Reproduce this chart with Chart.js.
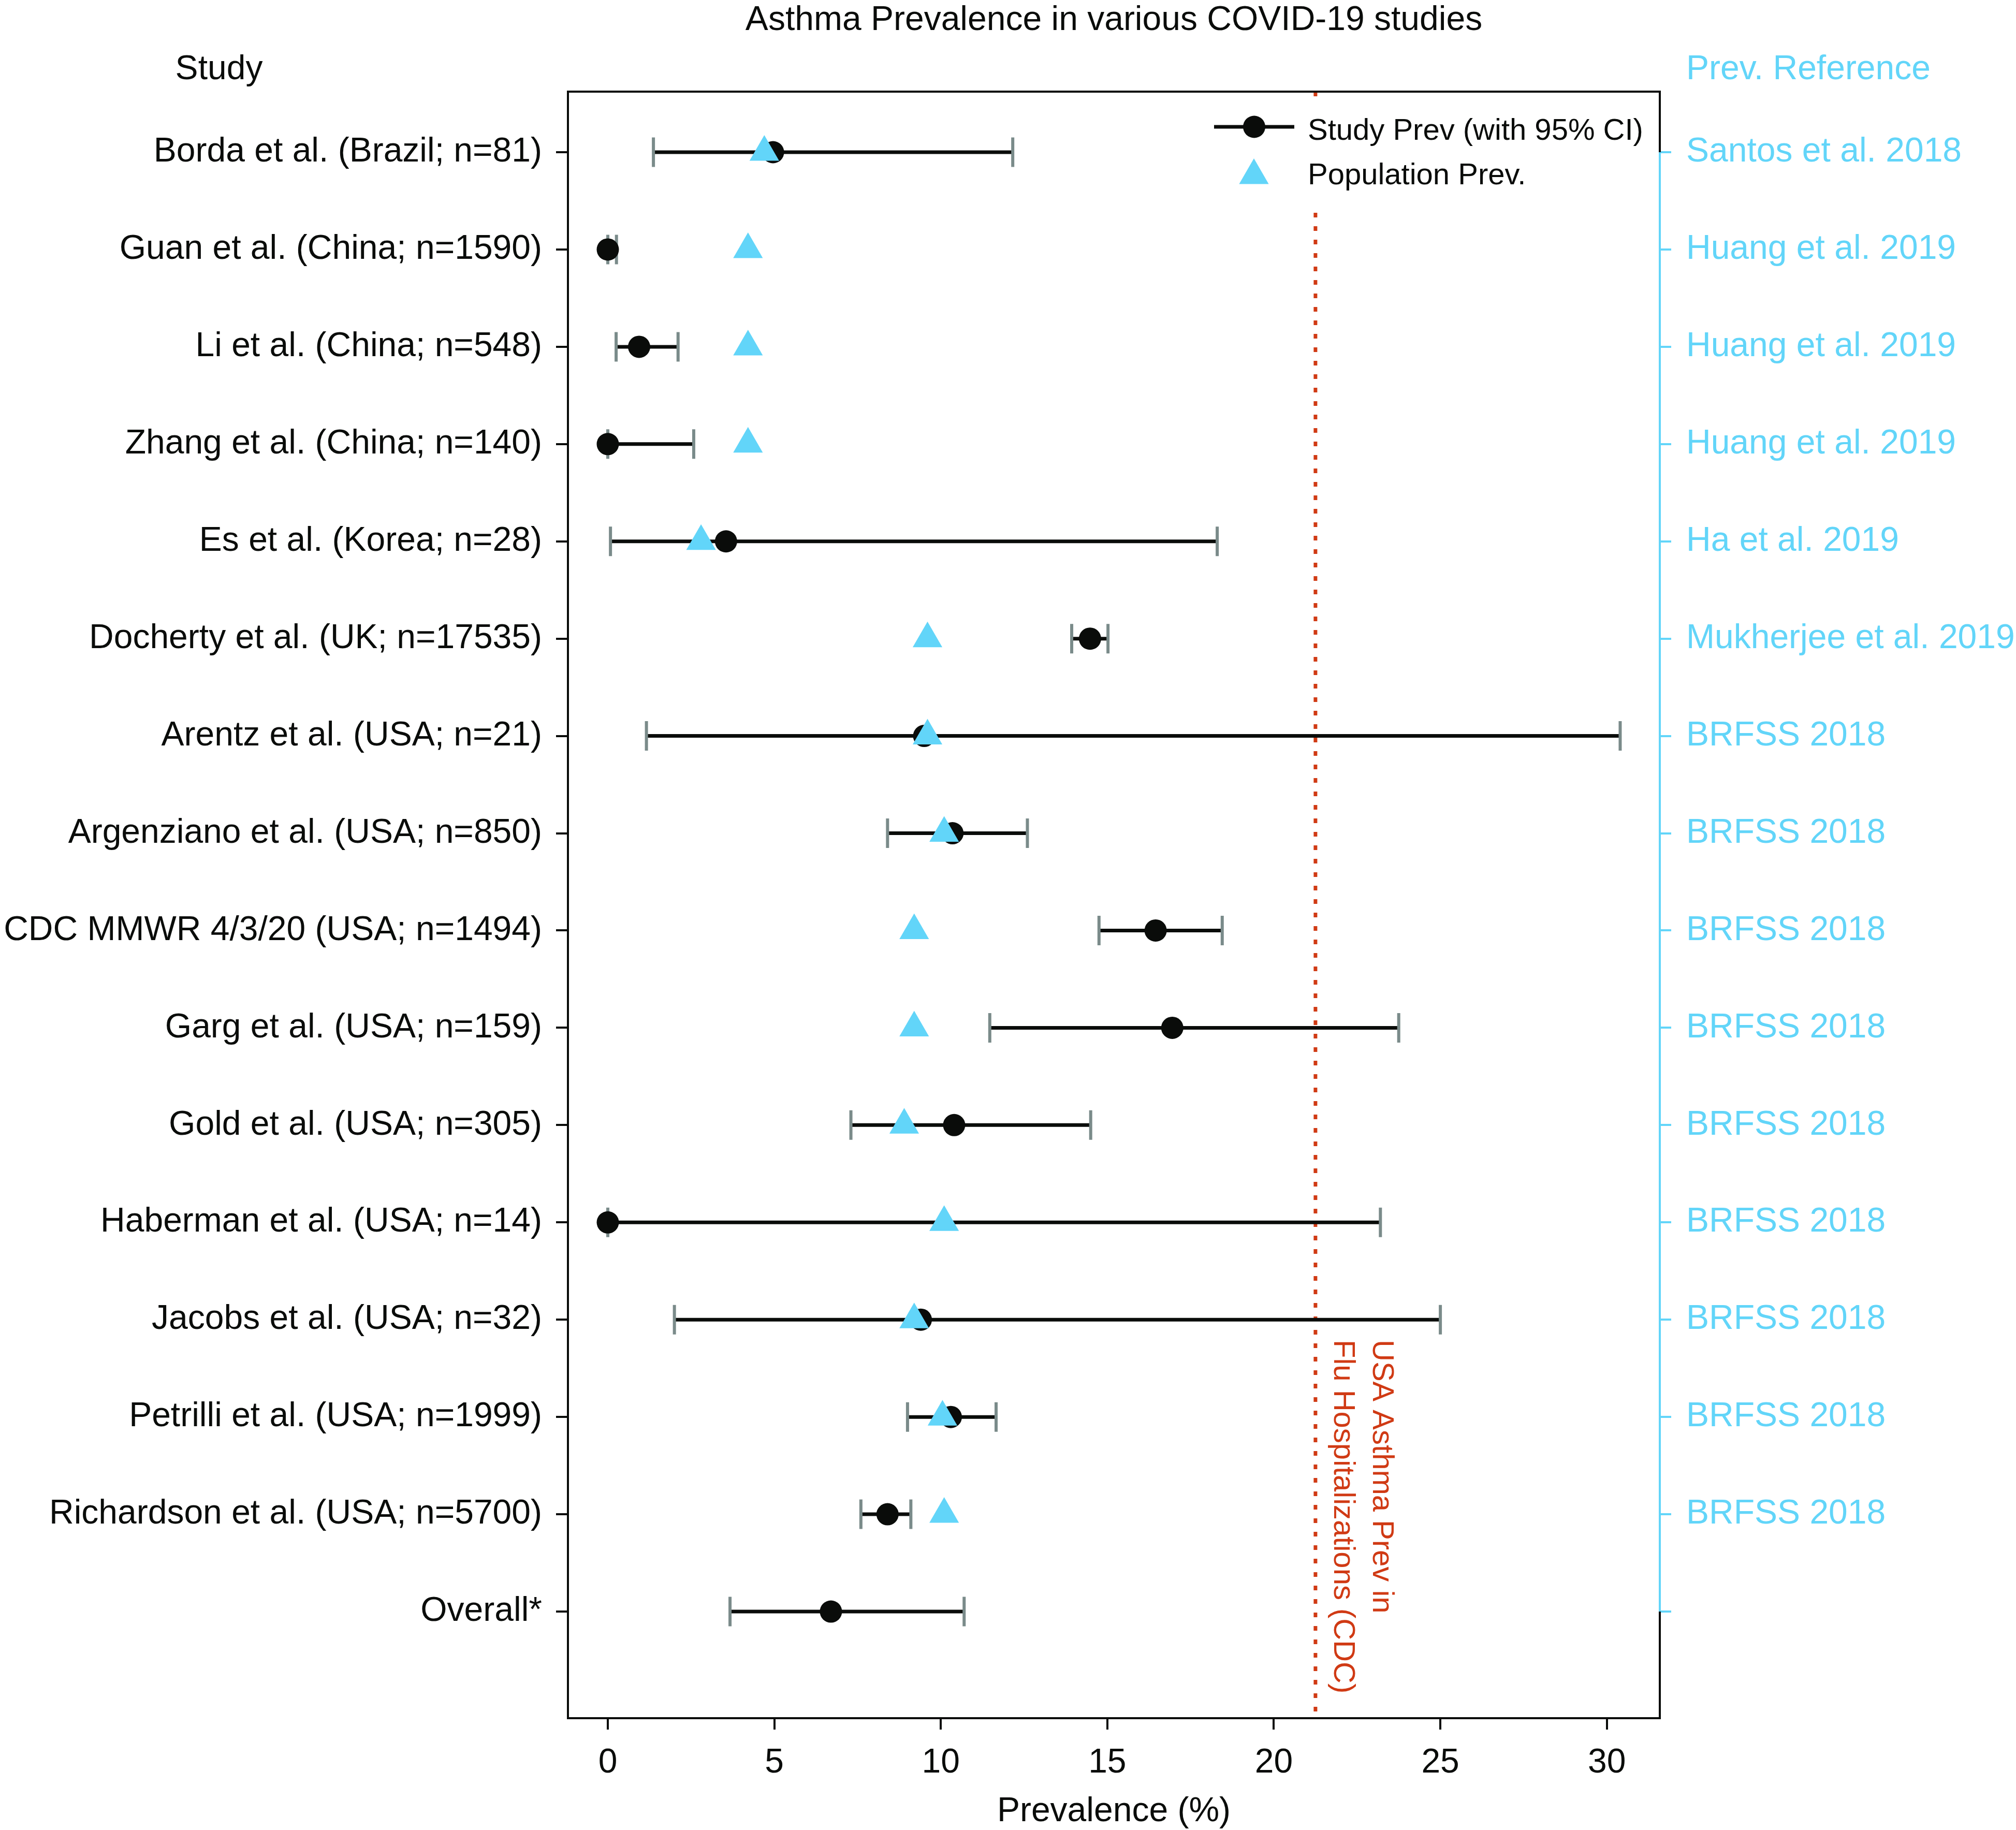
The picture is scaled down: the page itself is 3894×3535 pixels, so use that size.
<!DOCTYPE html>
<html><head><meta charset="utf-8">
<script src="https://cdn.jsdelivr.net/npm/chart.js@4.4.1/dist/chart.umd.min.js"></script>
<style>html,body{margin:0;padding:0;background:#fff;} #wrap{width:3894px;height:3535px;position:relative;}</style>
</head><body><div id="wrap"><canvas id="c"></canvas></div>
<script>
// ---------- data ----------
const studies = [
  'Borda et al. (Brazil; n=81)',
  'Guan et al. (China; n=1590)',
  'Li et al. (China; n=548)',
  'Zhang et al. (China; n=140)',
  'Es et al. (Korea; n=28)',
  'Docherty et al. (UK; n=17535)',
  'Arentz et al. (USA; n=21)',
  'Argenziano et al. (USA; n=850)',
  'CDC MMWR 4/3/20 (USA; n=1494)',
  'Garg et al. (USA; n=159)',
  'Gold et al. (USA; n=305)',
  'Haberman et al. (USA; n=14)',
  'Jacobs et al. (USA; n=32)',
  'Petrilli et al. (USA; n=1999)',
  'Richardson et al. (USA; n=5700)',
  'Overall*'
];
const refLabels = [
  'Santos et al. 2018',
  'Huang et al. 2019',
  'Huang et al. 2019',
  'Huang et al. 2019',
  'Ha et al. 2019',
  'Mukherjee et al. 2019',
  'BRFSS 2018','BRFSS 2018','BRFSS 2018','BRFSS 2018','BRFSS 2018',
  'BRFSS 2018','BRFSS 2018','BRFSS 2018','BRFSS 2018',
  ''
];
const studyPrev = [4.96, 0, 0.94, 0, 3.55, 14.48, 9.5, 10.35, 16.45, 16.95, 10.4, 0, 9.4, 10.3, 8.4, 6.7];
const ciLow     = [1.37, 0, 0.25, 0, 0.08, 13.93, 1.16, 8.4, 14.75, 11.47, 7.3, 0, 2.0, 9.0, 7.6, 3.67];
const ciHigh    = [12.16, 0.26, 2.11, 2.58, 18.3, 15.02, 30.4, 12.6, 18.45, 23.75, 14.5, 23.2, 25.0, 11.66, 9.1, 10.7];
const popPrev   = [4.7, 4.21, 4.21, 4.21, 2.8, 9.6, 9.6, 10.1, 9.2, 9.2, 8.9, 10.1, 9.2, 10.05, 10.1, null];
const xTicks = [0, 5, 10, 15, 20, 25, 30];
const cdcFluAsthma = 21.25;
const chartTitle = 'Asthma Prevalence in various COVID-19 studies';
const xTitle = 'Prevalence (%)';
const leftHeader = 'Study';
const rightHeader = 'Prev. Reference';
const annotationLines = ['USA Asthma Prev in', 'Flu Hospitalizations (CDC)'];
const legendLabels = ['Study Prev (with 95% CI)', 'Population Prev.'];

// ---------- style ----------
const FONT = "'Liberation Sans', Arial, Helvetica, sans-serif";
const BLACK = '#0a0c0a';
const BLUE = '#62d5f9';
const RED = '#d03a14';
const GRAY = '#7a8b8a';
Chart.defaults.font.family = FONT;
Chart.defaults.font.size = 66;
Chart.defaults.color = BLACK;

const rowIdx = studies.map((_, i) => i);

const overlay = {
  id: 'overlay',
  beforeDatasetsDraw(chart) {
    const {ctx, chartArea: a, scales: {x, y}} = chart;
    ctx.save();
    // CDC reference dotted line
    const rx = x.getPixelForValue(cdcFluAsthma);
    ctx.strokeStyle = RED; ctx.lineWidth = 7; ctx.setLineDash([9, 17]);
    ctx.beginPath(); ctx.moveTo(rx, a.top); ctx.lineTo(rx, a.bottom); ctx.stroke();
    ctx.setLineDash([]);
    // error bars
    rowIdx.forEach(i => {
      const py = y.getPixelForValue(i);
      const x1 = x.getPixelForValue(ciLow[i]);
      const x2 = x.getPixelForValue(ciHigh[i]);
      ctx.strokeStyle = BLACK; ctx.lineWidth = 7;
      ctx.beginPath(); ctx.moveTo(x1, py); ctx.lineTo(x2, py); ctx.stroke();
      ctx.strokeStyle = GRAY; ctx.lineWidth = 6;
      ctx.beginPath();
      ctx.moveTo(x1, py - 28.5); ctx.lineTo(x1, py + 28.5);
      ctx.moveTo(x2, py - 28.5); ctx.lineTo(x2, py + 28.5);
      ctx.stroke();
    });
    ctx.restore();
  },
  afterDraw(chart) {
    const {ctx, chartArea: a, scales: {x, y}} = chart;
    ctx.save();
    // frame
    ctx.lineWidth = 4; ctx.strokeStyle = BLACK; ctx.lineCap = 'square';
    ctx.beginPath();
    ctx.moveTo(a.left, a.top); ctx.lineTo(a.right, a.top);
    ctx.moveTo(a.left, a.top); ctx.lineTo(a.left, a.bottom); ctx.lineTo(a.right, a.bottom);
    ctx.stroke();
    const y0 = y.getPixelForValue(0), y15 = y.getPixelForValue(studies.length - 1);
    ctx.lineCap = 'butt';
    ctx.beginPath();
    ctx.moveTo(a.right, a.top - 2); ctx.lineTo(a.right, y0);
    ctx.moveTo(a.right, y15); ctx.lineTo(a.right, a.bottom + 2);
    ctx.stroke();
    ctx.strokeStyle = BLUE;
    ctx.beginPath(); ctx.moveTo(a.right, y0); ctx.lineTo(a.right, y15); ctx.stroke();

    // legend
    ctx.fillStyle = '#ffffff';
    ctx.fillRect(2310, 190, 890, 215);
    ctx.strokeStyle = BLACK; ctx.lineWidth = 7;
    ctx.beginPath(); ctx.moveTo(2345, 245); ctx.lineTo(2500, 245); ctx.stroke();
    ctx.fillStyle = BLACK;
    ctx.beginPath(); ctx.arc(2422.5, 245, 21.5, 0, Math.PI * 2); ctx.fill();
    const r = 33, tcx = 2422, tcy = 339;
    ctx.fillStyle = BLUE;
    ctx.beginPath();
    ctx.moveTo(tcx, tcy - r);
    ctx.lineTo(tcx + r * Math.sin(2 * Math.PI / 3), tcy - r * Math.cos(2 * Math.PI / 3));
    ctx.lineTo(tcx + r * Math.sin(4 * Math.PI / 3), tcy - r * Math.cos(4 * Math.PI / 3));
    ctx.closePath(); ctx.fill();
    ctx.fillStyle = BLACK;
    ctx.font = `58px ${FONT}`;
    ctx.textAlign = 'left'; ctx.textBaseline = 'middle';
    ctx.fillText(legendLabels[0], 2526, 254);
    ctx.fillText(legendLabels[1], 2526, 340);

    // headers
    ctx.font = `66px ${FONT}`;
    ctx.textAlign = 'center'; ctx.fillStyle = BLACK;
    ctx.fillText(leftHeader, 423, 135);
    ctx.textAlign = 'left'; ctx.fillStyle = BLUE;
    ctx.fillText(rightHeader, 3257, 135);

    // rotated annotation
    ctx.fillStyle = RED;
    ctx.font = `58px ${FONT}`;
    ctx.textBaseline = 'alphabetic';
    const bx = [2652, 2577];
    annotationLines.forEach((t, k) => {
      ctx.save();
      ctx.translate(bx[k], 2588);
      ctx.rotate(Math.PI / 2);
      ctx.fillText(t, 0, 0);
      ctx.restore();
    });
    ctx.restore();
  }
};

const yRange = {min: -0.6226, max: 16.096};
function rowTicks(scale) { scale.ticks = rowIdx.map(v => ({value: v})); }

new Chart(document.getElementById('c'), {
  type: 'scatter',
  data: {
    datasets: [
      {
        label: legendLabels[0],
        data: studyPrev.map((v, i) => ({x: v, y: i})),
        pointStyle: 'circle', pointRadius: 21.5, pointHoverRadius: 21.5,
        backgroundColor: BLACK, borderWidth: 0, order: 1
      },
      {
        label: legendLabels[1],
        data: popPrev.map((v, i) => (v === null ? null : {x: v, y: i})).filter(p => p),
        pointStyle: 'triangle', pointRadius: 33, pointHoverRadius: 33,
        backgroundColor: BLUE, borderWidth: 0, order: 0
      }
    ]
  },
  options: {
    responsive: true, maintainAspectRatio: false, animation: false,
    devicePixelRatio: 1,
    layout: {padding: 0},
    plugins: {
      legend: {display: false},
      tooltip: {enabled: false},
      title: {
        display: true, text: chartTitle, color: BLACK, fullSize: false,
        font: {size: 66, weight: 'normal', family: FONT},
        padding: {top: 0, bottom: 97.8}
      }
    },
    scales: {
      x: {
        type: 'linear', position: 'bottom', min: -1.197, max: 31.59,
        afterBuildTicks(s) { s.ticks = xTicks.map(v => ({value: v})); },
        afterFit(s) { s.height = 216; },
        border: {display: false},
        grid: {display: true, drawOnChartArea: false, drawTicks: true, tickLength: 22, lineWidth: 4, color: BLACK},
        ticks: {autoSkip: false, maxRotation: 0, padding: 25, color: BLACK, font: {size: 66}},
        title: {display: true, text: xTitle, color: BLACK, font: {size: 66}, padding: {top: 0, bottom: -4}}
      },
      y: {
        type: 'linear', position: 'left', reverse: true, min: yRange.min, max: yRange.max,
        afterBuildTicks: rowTicks,
        afterFit(s) { s.width = 1097; },
        border: {display: false},
        grid: {display: true, drawOnChartArea: false, drawTicks: true, tickLength: 23, lineWidth: 4, color: BLACK},
        ticks: {autoSkip: false, padding: 27, color: BLACK, font: {size: 66},
          callback: v => studies[v] ?? ''}
      },
      y2: {
        type: 'linear', position: 'right', reverse: true, min: yRange.min, max: yRange.max,
        afterBuildTicks: rowTicks,
        afterFit(s) { s.width = 3894 - 3206; },
        border: {display: false},
        grid: {display: true, drawOnChartArea: false, drawTicks: true, tickLength: 22, lineWidth: 4, color: BLUE},
        ticks: {autoSkip: false, padding: 29, color: BLUE, font: {size: 66},
          callback: v => refLabels[v] ?? ''}
      }
    }
  },
  plugins: [overlay]
});
</script>
</body></html>
